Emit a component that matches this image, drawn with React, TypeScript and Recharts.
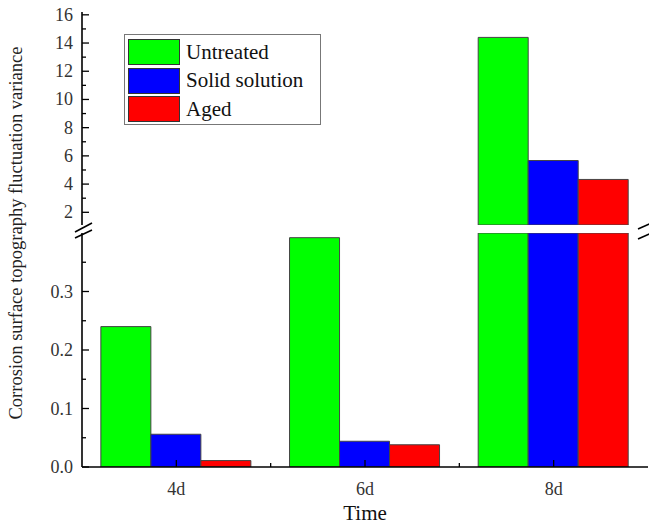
import React from 'react';
import { BarChart, Bar, XAxis, YAxis } from 'recharts';

const days = ['4d', '6d', '8d'];
const untreated = [0.24, 0.392, 14.4];
const solidSolution = [0.056, 0.044, 5.67];
const aged = [0.011, 0.038, 4.33];

const upperTicks = [2, 3, 4, 5, 6, 7, 8, 9, 10, 11, 12, 13, 14, 15, 16];
const lowerTicks = [0, 0.05, 0.1, 0.15, 0.2, 0.25, 0.3, 0.35];

const UPPER_MIN = 1.1;
const UPPER_MAX = 16.2;
const LOWER_MAX = 0.4;

const W = 649;
const H = 529;
const PLOT_LEFT = 82;
const PLOT_RIGHT = 648;
const BAND = (PLOT_RIGHT - PLOT_LEFT) / days.length;
const FONT = '"Liberation Serif", "Times New Roman", serif';

const series = [
  { key: 'untreated', name: 'Untreated', color: '#00ff00', values: untreated },
  { key: 'solid', name: 'Solid solution', color: '#0000ff', values: solidSolution },
  { key: 'aged', name: 'Aged', color: '#ff0000', values: aged },
];

// upper panel only shows values above the break, lower panel is capped at its top
const upperData = days.map((day, i) => {
  const row: Record<string, string | number | null> = { day };
  series.forEach((s) => {
    row[s.key] = s.values[i] >= UPPER_MIN ? s.values[i] : null;
  });
  return row;
});

const lowerData = days.map((day, i) => {
  const row: Record<string, string | number> = { day };
  series.forEach((s) => {
    row[s.key] = Math.min(s.values[i], LOWER_MAX);
  });
  return row;
});

function YTick(props: any) {
  const { x, y, payload, major, fmt } = props;
  const isMajor = major(payload.value);
  return (
    <g>
      <line x1={x} y1={y} x2={x + (isMajor ? 7 : 4)} y2={y} stroke="#000" strokeWidth={1.3} />
      {isMajor && (
        <text x={x - 9} y={y} dy={6} textAnchor="end" fontFamily={FONT} fontSize={18} fill="#333">
          {fmt(payload.value)}
        </text>
      )}
    </g>
  );
}

function XTick(props: any) {
  const { x, y, payload, index } = props;
  return (
    <g>
      <line x1={x} y1={y} x2={x} y2={y - 7} stroke="#000" strokeWidth={1.3} />
      {index < days.length - 1 && (
        <line x1={x + BAND / 2} y1={y} x2={x + BAND / 2} y2={y - 4} stroke="#000" strokeWidth={1.3} />
      )}
      <text x={x} y={y + 28} textAnchor="middle" fontFamily={FONT} fontSize={18} fill="#333">
        {payload.value}
      </text>
    </g>
  );
}

export default function App() {
  const axisLine = { stroke: '#000', strokeWidth: 1.6 };
  return (
    <div style={{ position: 'absolute', left: 0, top: 0, width: W, height: H, background: '#fff' }}>
      <div style={{ position: 'absolute', left: 0, top: 0 }}>
        <BarChart
          width={W}
          height={240}
          data={upperData}
          margin={{ top: 12, right: W - PLOT_RIGHT, bottom: 15, left: PLOT_LEFT - 50 }}
          barCategoryGap="10%"
          barGap={0}
        >
          <XAxis dataKey="day" orientation="top" height={0} tick={false} tickLine={false} axisLine={axisLine} />
          <YAxis
            domain={[UPPER_MIN, UPPER_MAX]}
            allowDataOverflow
            ticks={upperTicks}
            interval={0}
            width={50}
            tickSize={0}
            tickMargin={0}
            tickLine={false}
            axisLine={axisLine}
            tick={<YTick major={(v: number) => v % 2 === 0} fmt={(v: number) => String(v)} />}
          />
          <YAxis
            yAxisId="right"
            orientation="right"
            domain={[UPPER_MIN, UPPER_MAX]}
            width={0}
            tick={false}
            tickLine={false}
            axisLine={axisLine}
          />
          {series.map((s) => (
            <Bar
              key={s.key}
              dataKey={s.key}
              name={s.name}
              fill={s.color}
              stroke="#444"
              strokeWidth={1}
              isAnimationActive={false}
            />
          ))}
        </BarChart>
      </div>
      <div style={{ position: 'absolute', left: 0, top: 0 }}>
        <BarChart
          width={W}
          height={H}
          data={lowerData}
          margin={{ top: 233, right: W - PLOT_RIGHT, bottom: 0, left: PLOT_LEFT - 50 }}
          barCategoryGap="10%"
          barGap={0}
        >
          <XAxis
            dataKey="day"
            height={H - 467}
            interval={0}
            tickSize={0}
            tickMargin={0}
            tickLine={false}
            axisLine={axisLine}
            tick={<XTick />}
          />
          <YAxis
            domain={[0, LOWER_MAX]}
            allowDataOverflow
            ticks={lowerTicks}
            interval={0}
            width={50}
            tickSize={0}
            tickMargin={0}
            tickLine={false}
            axisLine={axisLine}
            tick={
              <YTick
                major={(v: number) => Math.abs(Math.round(v * 10) - v * 10) < 1e-6}
                fmt={(v: number) => v.toFixed(1)}
              />
            }
          />
          <YAxis
            yAxisId="right"
            orientation="right"
            domain={[0, LOWER_MAX]}
            width={0}
            tick={false}
            tickLine={false}
            axisLine={axisLine}
          />
          {series.map((s) => (
            <Bar
              key={s.key}
              dataKey={s.key}
              name={s.name}
              fill={s.color}
              stroke="#444"
              strokeWidth={1}
              isAnimationActive={false}
            />
          ))}
        </BarChart>
      </div>
      <svg
        width={W}
        height={H}
        style={{ position: 'absolute', left: 0, top: 0, pointerEvents: 'none' }}
      >
        {/* axis break */}
        <rect x={70} y={225.5} width={W - 70} height={7} fill="#fff" />
        <line x1={75} y1={232} x2={92} y2={223} stroke="#000" strokeWidth={1.6} />
        <line x1={75} y1={238} x2={92} y2={230} stroke="#000" strokeWidth={1.6} />
        <line x1={638} y1={229} x2={656} y2={221} stroke="#000" strokeWidth={1.6} />
        <line x1={638} y1={239} x2={656} y2={231} stroke="#000" strokeWidth={1.6} />
        <text
          transform="translate(22, 233) rotate(-90)"
          textAnchor="middle"
          fontFamily={FONT}
          fontSize={18.5}
          fill="#222"
        >
          Corrosion surface topography fluctuation variance
        </text>
        <text x={365} y={520} textAnchor="middle" fontFamily={FONT} fontSize={21} fill="#111">
          Time
        </text>
      </svg>
      <div
        style={{
          position: 'absolute',
          left: 124,
          top: 34,
          width: 197,
          height: 91,
          border: '1px solid #777',
          background: '#fff',
          boxSizing: 'border-box',
          padding: '3px 3px',
          fontFamily: FONT,
          fontSize: 21,
          color: '#111',
        }}
      >
        {series.map((s) => (
          <div key={s.key} style={{ display: 'flex', alignItems: 'center', height: 28.5 }}>
            <div
              style={{
                width: 52,
                height: 26,
                background: s.color,
                border: '1px solid #333',
                boxSizing: 'border-box',
                marginRight: 6,
              }}
            />
            <span style={{ lineHeight: 1 }}>{s.name}</span>
          </div>
        ))}
      </div>
    </div>
  );
}
